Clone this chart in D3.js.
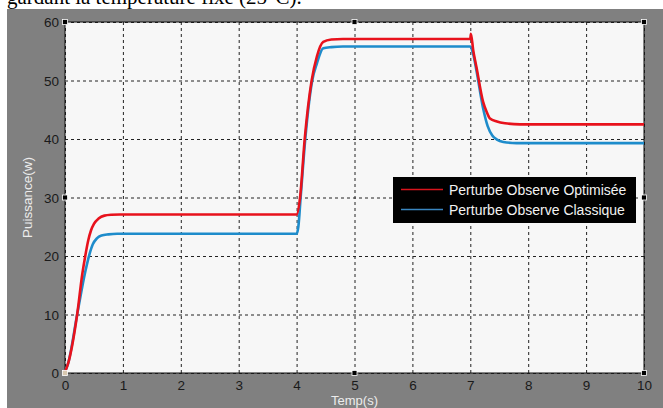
<!DOCTYPE html>
<html><head><meta charset="utf-8">
<script src="https://cdn.jsdelivr.net/npm/d3@7"></script>
<style>
html,body{margin:0;padding:0;background:#fff;}
svg{display:block;}
</style></head>
<body>
<svg id="c" width="663" height="408"></svg>
<script>
// ---- data ----
const xTicks = [0,1,2,3,4,5,6,7,8,9,10];
const yTicks = [0,10,20,30,40,50,60];
const seriesNames = ["Perturbe Observe Optimisée","Perturbe Observe Classique"];
const tOpt = [0,0.05,0.21,0.30,0.35,0.40,0.45,0.50,0.58,0.68,0.80,0.95,4.0,4.06,4.14,4.26,4.35,4.46,4.6,4.8,7.0,7.01,7.05,7.11,7.22,7.28,7.34,7.46,7.6,7.86,10];
const pOpt = [0.2,1.5,10,17,20,22.6,24.4,25.5,26.4,26.9,27.05,27.1,27.1,30,40,50,54.1,56.6,57.0,57.1,57.1,58,55.2,52.1,46.4,44.7,43.5,43.0,42.7,42.5,42.5];
const tCla = [0,0.05,0.21,0.35,0.42,0.48,0.55,0.63,0.75,0.9,4.0,4.03,4.07,4.15,4.27,4.35,4.46,4.6,4.8,7.0,7.05,7.11,7.22,7.30,7.38,7.46,7.57,7.8,10];
const pCla = [0.2,1.5,10,17.3,20.2,22.0,23.0,23.5,23.7,23.8,23.8,25,30,40,50,52.9,55.5,55.7,55.8,55.8,54.5,51.5,45.3,42.2,40.6,39.9,39.5,39.3,39.3];
const caption = "gardant la température fixe (25°C).";
const xLabel = "Temp(s)";
const yLabel = "Puissance(w)";

// ---- drawing ----
const svg = d3.select("#c");
const L=65, R=644, T=22, B=373;
const x = d3.scaleLinear().domain([0,10]).range([L,R]);
const y = d3.scaleLinear().domain([0,60]).range([B,T]);
const font = "'Liberation Sans', Arial, sans-serif";

// caption cut off at top
svg.append("text").attr("x",7).attr("y",4)
  .attr("font-family","'Liberation Serif','Times New Roman',serif")
  .attr("font-size",21).attr("fill","#000").text(caption);

// gray figure background
svg.append("rect").attr("x",7).attr("y",9).attr("width",663-7).attr("height",408-9).attr("fill","#808080");

// plot area
svg.append("rect").attr("x",L).attr("y",T).attr("width",R-L).attr("height",B-T).attr("fill","#f7f7f7");

// grid + x axis
const gx = svg.append("g").attr("transform",`translate(0,${B})`)
  .call(d3.axisBottom(x).tickValues(xTicks).tickFormat(d3.format("d")).tickSize(-(B-T)).tickPadding(7));
gx.select(".domain").remove();
gx.selectAll(".tick line").attr("stroke","#222").attr("stroke-dasharray","3,3");
gx.selectAll(".tick text").attr("font-family",font).attr("font-size",13.5).attr("fill","#1a1a1a");

const gy = svg.append("g").attr("transform",`translate(${L},0)`)
  .call(d3.axisLeft(y).tickValues(yTicks).tickFormat(d3.format("d")).tickSize(-(R-L)).tickPadding(6));
gy.select(".domain").remove();
gy.selectAll(".tick line").attr("stroke","#222").attr("stroke-dasharray","3,3");
gy.selectAll(".tick text").attr("font-family",font).attr("font-size",13.5).attr("fill","#1a1a1a").attr("dy","0.36em");

// frame
svg.append("rect").attr("x",L).attr("y",T).attr("width",R-L).attr("height",B-T)
  .attr("fill","none").attr("stroke","#111").attr("stroke-width",1);

// lines
const line = d3.line().x(d=>x(d[0])).y(d=>y(d[1])).curve(d3.curveMonotoneX);
const dOpt = tOpt.map((t,i)=>[t,pOpt[i]]);
const dCla = tCla.map((t,i)=>[t,pCla[i]]);
svg.append("path").datum(dCla).attr("d",line).attr("fill","none").attr("stroke","#1e8ccb").attr("stroke-width",2.6);
svg.append("path").datum(dOpt).attr("d",line).attr("fill","none").attr("stroke","#e8121c").attr("stroke-width",2.6);

// axis labels
svg.append("text").attr("x",(L+R)/2).attr("y",405).attr("text-anchor","middle")
  .attr("font-family",font).attr("font-size",13).attr("fill","#ececec").text(xLabel);
svg.append("text").attr("transform",`translate(32,${(T+B)/2}) rotate(-90)`).attr("text-anchor","middle")
  .attr("font-family",font).attr("font-size",13.5).attr("fill","#ececec").text(yLabel);

// legend
const lg = svg.append("g");
lg.append("rect").attr("x",393).attr("y",177).attr("width",243).attr("height",46).attr("fill","#000");
const lcol = ["#d8141c","#3a86c0"];
seriesNames.forEach((n,i)=>{
  const yy = 189.5 + i*20;
  lg.append("line").attr("x1",401).attr("x2",443).attr("y1",yy).attr("y2",yy).attr("stroke",lcol[i]).attr("stroke-width",1.6);
  lg.append("text").attr("x",449).attr("y",yy+5).attr("font-family",font).attr("font-size",14).attr("fill","#f2f2f2").text(n);
});

// selection handles
const handles = [[L,T],[(L+R)/2,T],[R,T],[L,(T+B)/2],[R,(T+B)/2],[L,B],[(L+R)/2,B],[R,B]];
handles.forEach((h,i)=>{
  svg.append("rect").attr("x",h[0]-2.5).attr("y",h[1]-2.5).attr("width",5).attr("height",5)
    .attr("fill", i===5 ? "#d8c8b0" : "#000").attr("stroke","#fff").attr("stroke-width",0.8);
});
</script>
</body></html>
